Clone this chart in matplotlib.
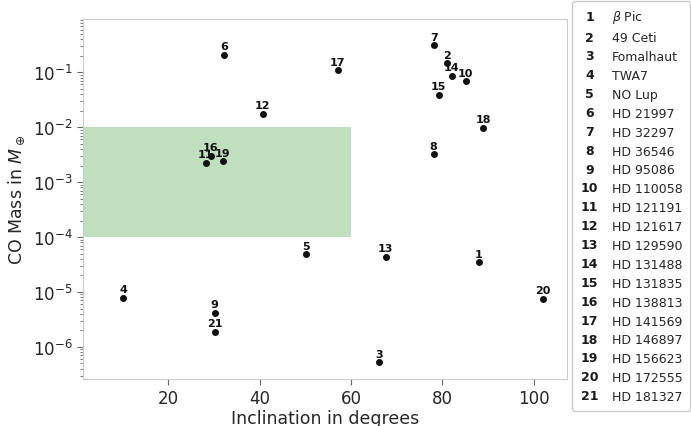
import numpy as np
import matplotlib
matplotlib.use("Agg")
from matplotlib import pyplot as plt
from matplotlib.legend_handler import HandlerBase
from matplotlib.text import Text

names = ["$\\beta$ Pic", "49 Ceti", "Fomalhaut", "TWA7", "NO Lup", "HD 21997",
         "HD 32297", "HD 36546", "HD 95086", "HD 110058", "HD 121191",
         "HD 121617", "HD 129590", "HD 131488", "HD 131835", "HD 138813",
         "HD 141569", "HD 146897", "HD 156623", "HD 172555", "HD 181327"]
incl = [88.0, 81.1, 66.2, 10.2, 50.1, 32.3, 78.1, 78.1, 30.2, 85.1, 28.2,
        40.7, 67.6, 82.1, 79.2, 29.3, 57.1, 89.0, 31.9, 102.0, 30.2]
co_mass = [3.5e-5, 0.146, 5.2e-7, 7.8e-6, 4.9e-5, 0.209, 0.31, 3.2e-3, 4.2e-6,
           0.0686, 2.27e-3, 0.0177, 4.4e-5, 0.0867, 0.039, 3.05e-3, 0.109,
           9.7e-3, 2.4e-3, 7.5e-6, 1.9e-6]
box_x = [0, 60]
box_y = [1e-4, 1e-2]

plt.rcParams['font.family'] = ['DejaVu Sans']
plt.rcParams['text.color'] = '.15'
plt.rcParams['axes.labelcolor'] = '.15'
plt.rcParams['xtick.color'] = '.15'
plt.rcParams['ytick.color'] = '.15'


class Num:
    def __init__(self, s):
        self.s = s


class NumHandler(HandlerBase):
    def create_artists(self, legend, orig_handle, xdescent, ydescent,
                       width, height, fontsize, trans):
        t = Text(width / 2 - xdescent, height / 2 - ydescent, orig_handle.s,
                 ha='center', va='center', fontweight='bold',
                 fontsize=fontsize, color='.1', transform=trans)
        return [t]


fig = plt.figure(figsize=(6.91, 4.27), dpi=100)
g = fig.add_axes([0.1197, 0.110, 0.7003, 0.843])

g.fill_between(box_x, box_y[0], box_y[1], color='green', alpha=0.25, lw=0)
g.scatter(incl, co_mass, s=16, color='#111111', zorder=3)
for i, (x, y) in enumerate(zip(incl, co_mass)):
    g.annotate(str(i + 1), (x, y), xytext=(0, 2.5), textcoords='offset points',
               ha='center', va='bottom', fontsize=8, fontweight='bold',
               color='#111111')

g.set_yscale('log')
g.set_xlim(1.3, 107.2)
g.set_ylim(2.6e-7, 0.93)
g.set_xticks([20, 40, 60, 80, 100])
g.tick_params(axis='both', labelsize=12)
g.tick_params(axis='y', which='major', length=4, color='0.4')
g.tick_params(axis='y', which='minor', length=2.5, color='0.4')
g.tick_params(axis='x', length=4, color='0.4')
for sp in g.spines.values():
    sp.set_color('0.8')

g.set_xlabel('Inclination in degrees', fontsize=12.5, labelpad=1)
g.set_ylabel('CO Mass in $M_\\oplus$', fontsize=12.5)

handles = [Num(str(i + 1)) for i in range(len(names))]
fig.legend(handles, names, handler_map={Num: NumHandler()},
           loc='upper left', bbox_to_anchor=(572 / 691, 1 - 2 / 427),
           borderaxespad=0, fontsize=9, handlelength=1.6, handletextpad=1.0,
           borderpad=0.6, labelspacing=0.47, edgecolor='0.8', framealpha=1)

plt.savefig('out.png', dpi=100)
